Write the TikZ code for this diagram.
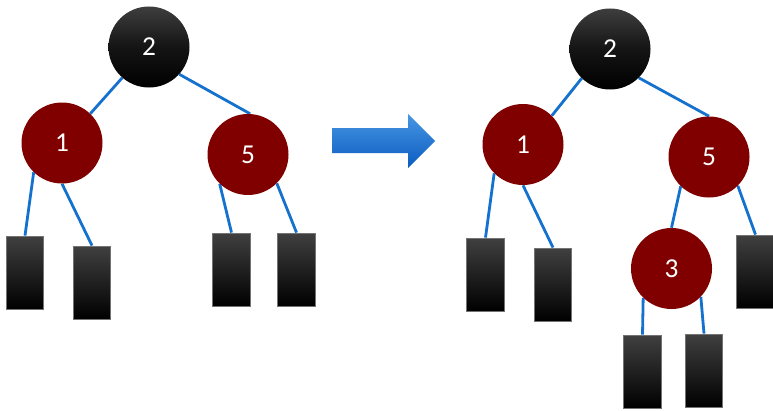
\documentclass[tikz,border=0pt]{standalone}
\usepackage{fontspec}
\setmainfont{Carlito}
\usetikzlibrary{backgrounds}
\definecolor{maroon}{RGB}{128,0,0}
\definecolor{edgeblue}{RGB}{20,114,206}
\definecolor{arrowtop}{RGB}{72,150,228}
\definecolor{arrowbot}{RGB}{10,92,192}
\tikzset{
  rbnode/.style={circle, minimum size=60.75pt, inner sep=0pt, text=white,
    font=\fontsize{20.5}{24}\selectfont},
  rednode/.style={rbnode, fill=maroon},
  blacknode/.style={rbnode, top color=black!76, bottom color=black, middle color=black!92},
  leafbox/.style={rectangle, minimum width=28pt, minimum height=54.75pt, inner sep=0pt,
    draw=black!55, line width=0.6pt, top color=black!75, middle color=black, bottom color=black},
  treeedge/.style={draw=edgeblue, line width=2.1pt},
  bigarrow/.style={top color=arrowtop, bottom color=arrowbot, draw=none}
}
\begin{document}
\begin{tikzpicture}[x=0.75pt,y=-0.75pt]
\useasboundingbox (0,0) rectangle (773,410);
% left tree
\node[blacknode] (L2) at (149,47) {2};
\node[rednode] (L1) at (62,143) {1};
\node[rednode] (L5) at (248,154.5) {5};
\node[leafbox] (LA) at (25,272.5) {};
\node[leafbox] (LB) at (92,282.5) {};
\node[leafbox] (LC) at (231.5,269.5) {};
\node[leafbox] (LD) at (296.5,269.5) {};
% right tree
\node[blacknode] (R2) at (610,49) {2};
\node[rednode] (R1) at (523,144.5) {1};
\node[rednode] (R5) at (709,157) {5};
\node[rednode] (R3) at (671.5,268.5) {3};
\node[leafbox] (RA) at (485.5,274.5) {};
\node[leafbox] (RB) at (553,284.5) {};
\node[leafbox] (RC) at (755.5,271.5) {};
\node[leafbox] (RD) at (642.5,371.5) {};
\node[leafbox] (RE) at (704,370.5) {};
% edges
\begin{scope}[on background layer]
\draw[treeedge] (L2.229) -- (L1.46);
\draw[treeedge] (L2.-42) -- (L5.87);
\draw[treeedge] (L1.226) -- (LA.north);
\draw[treeedge] (L1.-90) -- (LB.north);
\draw[treeedge] (L5.226) -- (LC.north);
\draw[treeedge] (L5.-45) -- (LD.north);
\draw[treeedge] (R2.226) -- (R1.45);
\draw[treeedge] (R2.-45) -- (R5.90);
\draw[treeedge] (R1.225) -- (RA.north);
\draw[treeedge] (R1.-90) -- (RB.north);
\draw[treeedge] (R5.226) -- (R3.north);
\draw[treeedge] (R5.-45) -- (RC.north);
\draw[treeedge] (R3.226) -- (RD.north);
\draw[treeedge] (R3.-44) -- (RE.north);
\end{scope}
% transformation arrow
\path[bigarrow] (332,128) -- (408,128) -- (408,114) -- (435,141) -- (408,168) -- (408,153) -- (332,153) -- cycle;
\end{tikzpicture}
\end{document}
